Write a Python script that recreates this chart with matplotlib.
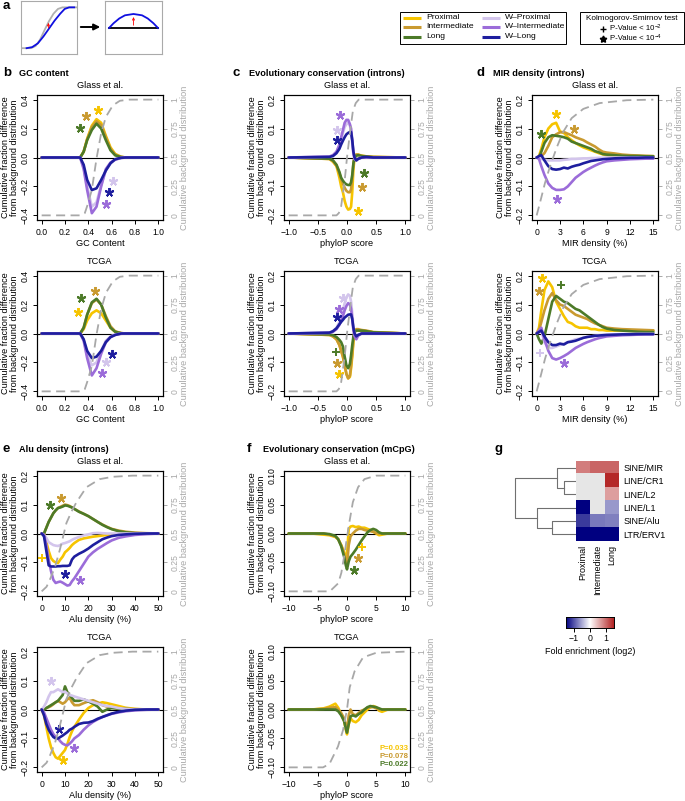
import matplotlib.pyplot as plt
import matplotlib.patches as mpatches
from matplotlib.colors import LinearSegmentedColormap
import numpy as np

plt.rcParams['font.family'] = ['Liberation Sans', 'DejaVu Sans']

W, H = 685, 801

SERIES = ['Proximal', 'Intermediate', 'Long', 'W-Proximal', 'W-Intermediate', 'W-Long']
COLORS = {'Proximal': '#F6C400', 'Intermediate': '#C99A30', 'Long': '#4C7A28',
          'W-Proximal': '#D3C5EC', 'W-Intermediate': '#9B6CD9', 'W-Long': '#1E1E9E'}
GREY = '#A8A8A8'

# ---------------- b: GC content ----------------
gc_x = [0, 0.33, 0.36, 0.39, 0.43, 0.47, 0.51, 0.55, 0.59, 0.63, 0.68, 0.72, 1.0]
gc_glass = {
    'Proximal':       [0, 0, 0.04, 0.13, 0.22, 0.265, 0.24, 0.15, 0.07, 0.025, 0.005, 0, 0],
    'Intermediate':   [0, 0, 0.04, 0.125, 0.21, 0.25, 0.225, 0.14, 0.06, 0.02, 0.004, 0, 0],
    'Long':           [0, 0, 0.04, 0.12, 0.19, 0.234, 0.20, 0.12, 0.05, 0.015, 0.003, 0, 0],
    'W-Proximal':     [0, 0, -0.07, -0.20, -0.34, -0.31, -0.19, -0.09, -0.04, -0.015, -0.003, 0, 0],
    'W-Intermediate': [0, 0, -0.08, -0.225, -0.385, -0.34, -0.20, -0.08, -0.035, -0.015, -0.003, 0, 0],
    'W-Long':         [0, 0, -0.05, -0.155, -0.225, -0.213, -0.155, -0.09, -0.04, -0.012, -0.002, 0, 0],
}
gc_tcga = {
    'Proximal':       [0, 0, 0.03, 0.09, 0.14, 0.16, 0.14, 0.09, 0.04, 0.012, 0.002, 0, 0],
    'Intermediate':   [0, 0, 0.04, 0.13, 0.21, 0.235, 0.20, 0.12, 0.05, 0.015, 0.003, 0, 0],
    'Long':           [0, 0, 0.04, 0.13, 0.215, 0.24, 0.20, 0.11, 0.04, 0.012, 0.002, 0, 0],
    'W-Proximal':     [0, 0, -0.04, -0.15, -0.22, -0.20, -0.12, -0.05, -0.02, -0.008, 0, 0, 0],
    'W-Intermediate': [0, 0, -0.05, -0.17, -0.29, -0.24, -0.14, -0.06, -0.025, -0.01, -0.002, 0, 0],
    'W-Long':         [0, 0, -0.04, -0.12, -0.17, -0.16, -0.12, -0.06, -0.025, -0.01, 0, 0, 0],
}
gc_bg_x = [0, 0.34, 0.37, 0.39, 0.43, 0.47, 0.51, 0.55, 0.61, 0.67, 0.75, 1.0]
gc_bg = [0, 0, 0.02, 0.08, 0.22, 0.49, 0.71, 0.85, 0.95, 0.99, 1, 1]
gc_glass_marks = [('Long', 0.33, 0.206, '*'), ('Intermediate', 0.38, 0.29, '*'),
                  ('Proximal', 0.48, 0.33, '*'), ('W-Proximal', 0.61, -0.16, '*'),
                  ('W-Long', 0.58, -0.24, '*'), ('W-Intermediate', 0.55, -0.32, '*')]
gc_tcga_marks = [('Long', 0.34, 0.246, '*'), ('Intermediate', 0.46, 0.297, '*'),
                 ('Proximal', 0.31, 0.151, '*'), ('W-Long', 0.605, -0.144, '*'),
                 ('W-Proximal', 0.55, -0.198, '*'), ('W-Intermediate', 0.52, -0.274, '*')]

# ---------------- c: phyloP introns ----------------
ph_x = [-1, -0.3, -0.24, -0.18, -0.13, -0.1, -0.07, -0.04, -0.01, 0.02, 0.05, 0.07,
        0.09, 0.11, 0.13, 0.16, 0.19, 0.25, 0.33, 0.45, 1.0]
ph_glass = {
    'Proximal':       [0, -0.005, -0.015, -0.03, -0.07, -0.1, -0.12, -0.15, -0.17, -0.18, -0.178, -0.17, -0.12, -0.04, 0, 0.01, 0.01, 0.006, 0.004, 0.002, 0],
    'Intermediate':   [0, -0.005, -0.012, -0.028, -0.055, -0.075, -0.09, -0.105, -0.115, -0.12, -0.12, -0.11, -0.07, -0.02, 0.005, 0.01, 0.01, 0.006, 0.004, 0.002, 0],
    'Long':           [0, -0.004, -0.01, -0.025, -0.05, -0.07, -0.08, -0.088, -0.093, -0.095, -0.095, -0.085, -0.06, -0.02, 0.0, 0.006, 0.008, 0.005, 0.003, 0.001, 0],
    'W-Proximal':     [0, 0.003, 0.008, 0.02, 0.04, 0.06, 0.085, 0.105, 0.115, 0.12, 0.11, 0.09, 0.05, 0.01, -0.005, -0.008, -0.004, 0, 0, 0, 0],
    'W-Intermediate': [0, 0.003, 0.008, 0.02, 0.045, 0.07, 0.095, 0.12, 0.13, 0.13, 0.115, 0.10, 0.06, 0.015, -0.005, -0.01, -0.005, 0, 0, 0, 0],
    'W-Long':         [0, 0.002, 0.005, 0.015, 0.03, 0.045, 0.058, 0.07, 0.08, 0.085, 0.088, 0.088, 0.06, 0.02, 0.0, -0.01, -0.005, 0, 0.002, 0, 0],
}
ph_tcga = {
    'Proximal':       [0, -0.005, -0.01, -0.02, -0.04, -0.06, -0.08, -0.11, -0.14, -0.155, -0.15, -0.12, -0.08, -0.03, 0.005, 0.012, 0.012, 0.01, 0.008, 0.004, 0],
    'Intermediate':   [0, -0.005, -0.01, -0.02, -0.04, -0.06, -0.08, -0.11, -0.14, -0.155, -0.145, -0.11, -0.07, -0.02, 0.008, 0.015, 0.015, 0.012, 0.01, 0.005, 0],
    'Long':           [0, -0.003, -0.006, -0.012, -0.022, -0.03, -0.045, -0.08, -0.11, -0.12, -0.105, -0.075, -0.04, -0.01, 0.005, 0.01, 0.01, 0.01, 0.008, 0.004, 0],
    'W-Proximal':     [0, 0.003, 0.008, 0.02, 0.04, 0.06, 0.08, 0.105, 0.125, 0.135, 0.13, 0.11, 0.07, 0.02, -0.005, -0.01, -0.005, 0, 0, 0, 0],
    'W-Intermediate': [0, 0.002, 0.006, 0.015, 0.03, 0.045, 0.06, 0.08, 0.095, 0.105, 0.1, 0.085, 0.05, 0.01, -0.01, -0.02, -0.008, 0, 0, 0, 0],
    'W-Long':         [0, 0.003, 0.008, 0.018, 0.032, 0.04, 0.047, 0.055, 0.06, 0.065, 0.066, 0.066, 0.05, 0.02, 0.0, -0.01, -0.005, 0, 0, 0, 0],
}
ph_bg_x = [-1, -0.18, -0.14, -0.1, -0.04, 0, 0.05, 0.1, 0.15, 0.2, 1]
ph_bg = [0, 0, 0.02, 0.08, 0.3, 0.5, 0.71, 0.9, 0.97, 1, 1]
ph_glass_marks = [('W-Intermediate', -0.126, 0.146, '*'), ('W-Proximal', -0.17, 0.094, '*'),
                  ('W-Long', -0.17, 0.06, '*'), ('Long', 0.29, -0.055, '*'),
                  ('Intermediate', 0.25, -0.103, '*'), ('Proximal', 0.18, -0.185, '*')]
ph_tcga_marks = [('W-Proximal', -0.07, 0.123, '*'), ('W-Intermediate', -0.14, 0.085, '*'),
                 ('W-Long', -0.17, 0.056, '*'), ('Long', -0.195, -0.064, '+'),
                 ('Intermediate', -0.17, -0.101, '*'), ('Proximal', -0.14, -0.141, '*')]

# ---------------- d: MIR density ----------------
mir_x = [0, 0.3, 0.6, 1.0, 1.5, 2.0, 2.5, 3.0, 3.5, 4.0, 4.5, 5.0, 5.5, 6.0, 6.5, 7.0,
         7.5, 8.0, 8.5, 9.0, 10, 11, 12, 13, 14, 15]
mir_glass = {
    'Proximal':       [0, 0.005, 0.03, 0.07, 0.1, 0.115, 0.12, 0.09, 0.085, 0.07, 0.06, 0.05, 0.042, 0.035, 0.03, 0.025, 0.02, 0.015, 0.011, 0.008, 0.002, -0.003, -0.003, 0, 0, 0],
    'Intermediate':   [0, 0, 0.005, 0.015, 0.04, 0.07, 0.08, 0.087, 0.088, 0.082, 0.077, 0.07, 0.065, 0.06, 0.052, 0.045, 0.038, 0.028, 0.02, 0.017, 0.014, 0.01, 0.008, 0.007, 0.006, 0.005],
    'Long':           [0, 0, 0.02, 0.05, 0.07, 0.077, 0.075, 0.073, 0.07, 0.065, 0.055, 0.05, 0.045, 0.04, 0.035, 0.03, 0.022, 0.018, 0.012, 0.01, 0.008, 0.006, 0.005, 0.005, 0.004, 0.004],
    'W-Proximal':     [0, 0, -0.005, -0.008, -0.01, -0.01, -0.01, -0.01, -0.008, -0.007, -0.005, -0.005, -0.004, -0.003, -0.003, -0.002, -0.002, -0.001, -0.001, 0, 0, 0, 0, 0, 0, 0],
    'W-Intermediate': [0, -0.005, -0.03, -0.06, -0.09, -0.105, -0.112, -0.112, -0.11, -0.1, -0.085, -0.07, -0.06, -0.05, -0.042, -0.035, -0.028, -0.022, -0.017, -0.013, -0.01, -0.008, -0.006, -0.005, -0.004, -0.004],
    'W-Long':         [0, 0.005, 0.008, -0.01, -0.03, -0.04, -0.042, -0.04, -0.035, -0.038, -0.032, -0.028, -0.025, -0.02, -0.016, -0.012, -0.01, -0.008, -0.006, -0.005, -0.003, -0.002, -0.001, -0.001, 0, 0],
}
mir_tcga = {
    'Proximal':       [0, 0.02, 0.08, 0.15, 0.18, 0.16, 0.11, 0.085, 0.06, 0.04, 0.035, 0.025, 0.02, 0.02, 0.02, 0.015, 0.015, 0.012, 0.012, 0.01, 0.01, 0.01, 0.01, 0.01, 0.01, 0.01],
    'Intermediate':   [0, 0.01, 0.04, 0.08, 0.12, 0.14, 0.115, 0.1, 0.095, 0.085, 0.075, 0.065, 0.06, 0.055, 0.05, 0.042, 0.035, 0.03, 0.025, 0.02, 0.017, 0.015, 0.014, 0.013, 0.012, 0.011],
    'Long':           [0, -0.02, -0.035, -0.01, 0.05, 0.11, 0.13, 0.12, 0.11, 0.105, 0.095, 0.085, 0.08, 0.07, 0.06, 0.05, 0.04, 0.03, 0.022, 0.017, 0.012, 0.01, 0.008, 0.006, 0.005, 0.005],
    'W-Proximal':     [0, 0.005, 0.01, -0.03, -0.05, -0.05, -0.045, -0.04, -0.035, -0.03, -0.025, -0.02, -0.018, -0.015, -0.012, -0.01, -0.008, -0.006, -0.005, -0.004, -0.003, -0.002, -0.002, -0.001, -0.001, -0.001],
    'W-Intermediate': [0, 0.01, 0.02, -0.02, -0.06, -0.085, -0.09, -0.085, -0.078, -0.07, -0.06, -0.05, -0.043, -0.036, -0.03, -0.025, -0.02, -0.016, -0.013, -0.01, -0.008, -0.006, -0.005, -0.004, -0.003, -0.003],
    'W-Long':         [0, 0.005, 0.01, -0.01, -0.03, -0.04, -0.04, -0.035, -0.038, -0.03, -0.028, -0.025, -0.02, -0.015, -0.012, -0.01, -0.008, -0.007, -0.006, -0.005, -0.004, -0.003, -0.003, -0.002, -0.002, -0.002],
}
mir_bg_x = [0, 0.43, 1.07, 1.7, 2.6, 3.4, 4.5, 6, 8.1, 11.6, 15]
mir_bg = [0, 0.11, 0.28, 0.42, 0.59, 0.72, 0.84, 0.92, 0.97, 0.995, 1]
mir_glass_marks = [('Proximal', 2.49, 0.149, '*'), ('Intermediate', 4.8, 0.1, '*'),
                   ('Long', 0.51, 0.08, '*'), ('W-Intermediate', 2.66, -0.143, '*')]
mir_tcga_marks = [('Proximal', 0.64, 0.192, '*'), ('Intermediate', 0.34, 0.146, '*'),
                  ('Long', 3.09, 0.169, '+'), ('W-Proximal', 0.43, -0.067, '+'),
                  ('W-Intermediate', 3.5, -0.102, '*')]

# ---------------- e: Alu density ----------------
alu_x = [0, 1, 2, 3, 4, 5, 6, 7, 8, 9, 10, 11, 12, 13, 14, 16, 18, 20, 22, 24, 26, 28,
         30, 33, 36, 40, 45, 50]
alu_glass = {
    'Proximal':       [0, 0, -0.03, -0.06, -0.085, -0.095, -0.1, -0.102, -0.09, -0.08, -0.065, -0.058, -0.05, -0.04, -0.033, -0.022, -0.017, -0.014, -0.011, -0.009, -0.007, -0.005, -0.004, -0.002, -0.001, 0, 0, 0],
    'Intermediate':   [0, 0, 0.02, 0.04, 0.055, 0.07, 0.08, 0.088, 0.092, 0.096, 0.1, 0.098, 0.095, 0.09, 0.085, 0.076, 0.068, 0.06, 0.05, 0.04, 0.031, 0.023, 0.016, 0.01, 0.006, 0.003, 0.001, 0],
    'Long':           [0, 0, 0.02, 0.04, 0.055, 0.07, 0.08, 0.088, 0.09, 0.093, 0.097, 0.096, 0.093, 0.09, 0.085, 0.075, 0.068, 0.06, 0.05, 0.04, 0.03, 0.022, 0.015, 0.008, 0.004, 0.001, 0, 0],
    'W-Proximal':     [0, -0.005, -0.015, -0.03, -0.035, -0.04, -0.042, -0.043, -0.04, -0.035, -0.033, -0.03, -0.027, -0.022, -0.018, -0.012, -0.007, -0.003, 0.001, 0.002, 0.001, 0, 0, 0, 0, 0, 0, 0],
    'W-Intermediate': [0, -0.005, -0.04, -0.09, -0.13, -0.16, -0.171, -0.168, -0.166, -0.17, -0.175, -0.18, -0.178, -0.165, -0.155, -0.13, -0.105, -0.08, -0.065, -0.053, -0.043, -0.033, -0.024, -0.015, -0.01, -0.005, -0.002, 0],
    'W-Long':         [0, -0.01, -0.06, -0.11, -0.114, -0.114, -0.114, -0.113, -0.113, -0.112, -0.112, -0.112, -0.11, -0.09, -0.08, -0.07, -0.062, -0.052, -0.04, -0.03, -0.02, -0.014, -0.009, -0.005, -0.003, -0.001, 0, 0],
}
alu_tcga = {
    'Proximal':       [0, -0.02, -0.06, -0.1, -0.13, -0.15, -0.165, -0.17, -0.16, -0.15, -0.14, -0.12, -0.095, -0.075, -0.06, -0.035, -0.012, 0.005, 0.015, 0.02, 0.025, 0.022, 0.018, 0.012, 0.006, 0.002, 0, 0],
    'Intermediate':   [0, 0, 0.005, 0.008, 0.012, 0.018, 0.025, 0.03, 0.025, 0.02, 0.025, 0.035, 0.04, 0.025, 0.015, 0.015, 0.022, 0.028, 0.032, 0.025, 0.015, 0.01, 0.006, 0.004, 0.002, 0.001, 0, 0],
    'Long':           [0, 0, 0.005, 0.01, 0.015, 0.02, 0.025, 0.03, 0.04, 0.05, 0.08, 0.06, 0.05, 0.04, 0.03, 0.03, 0.035, 0.028, 0.02, 0.01, -0.008, 0.0, 0.005, 0.003, 0.002, 0, 0, 0],
    'W-Proximal':     [0, 0.01, 0.025, 0.045, 0.06, 0.06, 0.065, 0.07, 0.065, 0.06, 0.062, 0.055, 0.05, 0.048, 0.045, 0.04, 0.035, 0.03, 0.025, 0.02, 0.015, 0.012, 0.01, 0.005, 0.002, 0, 0, 0],
    'W-Intermediate': [0, -0.01, -0.03, -0.05, -0.07, -0.085, -0.095, -0.1, -0.11, -0.118, -0.122, -0.124, -0.118, -0.11, -0.1, -0.088, -0.07, -0.055, -0.043, -0.034, -0.026, -0.02, -0.015, -0.01, -0.006, -0.003, -0.001, 0],
    'W-Long':         [0, -0.02, -0.05, -0.07, -0.084, -0.095, -0.1, -0.1, -0.095, -0.09, -0.084, -0.078, -0.07, -0.066, -0.06, -0.05, -0.046, -0.045, -0.04, -0.032, -0.026, -0.02, -0.014, -0.008, -0.004, -0.001, 0, 0],
}
alu_bg_x = [0, 2.1, 3.5, 5.7, 7.8, 10.6, 12.8, 14.9, 19.2, 24.9, 30.5, 39, 50]
alu_bg = [0, 0.04, 0.1, 0.21, 0.36, 0.59, 0.69, 0.77, 0.9, 0.97, 0.99, 1, 1]
alu_glass_marks = [('Long', 3.5, 0.097, '*'), ('Intermediate', 8.2, 0.123, '*'),
                   ('Proximal', 0.2, -0.083, '+'), ('W-Long', 9.8, -0.14, '*'),
                   ('W-Intermediate', 16.5, -0.16, '*')]
alu_tcga_marks = [('W-Proximal', 4.0, 0.097, '*'), ('W-Long', 7.5, -0.066, '*'),
                  ('W-Intermediate', 14.0, -0.132, '*'), ('Proximal', 9.2, -0.175, '*')]

# ---------------- f: phyloP mCpG ----------------
cpg_x = [-10, -6, -4, -3, -2, -1.5, -1, -0.5, -0.2, 0, 0.3, 0.6, 1.0, 1.5, 2.0, 2.5,
         3.0, 3.5, 4.0, 4.5, 5.0, 5.5, 6.0, 7, 10]
cpg_glass = {
    'Proximal':     [0, 0, -0.002, -0.003, -0.006, -0.01, -0.02, -0.032, -0.045, -0.035, 0.008, 0.012, 0.013, 0.011, 0.012, 0.01, 0.01, 0.008, 0.006, 0.003, 0.0, -0.003, -0.002, 0, 0],
    'Intermediate': [0, 0, 0, -0.002, -0.005, -0.01, -0.02, -0.035, -0.05, -0.055, -0.02, -0.005, 0.0, 0.005, 0.008, 0.008, 0.006, 0.005, 0.004, 0.003, 0.001, 0, 0, 0, 0],
    'Long':         [0, 0, 0, -0.001, -0.004, -0.01, -0.022, -0.04, -0.055, -0.062, -0.048, -0.04, -0.035, -0.028, -0.02, -0.012, -0.005, 0.002, 0.006, 0.008, 0.006, 0.002, 0, 0, 0],
}
cpg_tcga = {
    'Proximal':     [0, 0, 0.002, 0.005, 0.01, 0.003, -0.008, -0.02, -0.035, -0.043, -0.025, -0.015, -0.02, -0.022, -0.018, -0.01, -0.005, 0.0, 0.004, 0.006, 0.004, -0.002, -0.004, 0, 0],
    'Intermediate': [0, 0, 0.001, 0.003, 0.004, 0.0, -0.006, -0.015, -0.028, -0.035, -0.01, 0.0, -0.008, -0.01, -0.006, -0.002, 0.0, 0.003, 0.004, 0.004, 0.002, 0, 0, 0, 0],
    'Long':         [0, 0, 0, 0, 0, -0.003, -0.01, -0.02, -0.033, -0.04, -0.025, -0.012, -0.01, -0.012, -0.008, -0.005, 0.0, 0.004, 0.006, 0.005, 0.004, 0.002, 0, 0, 0],
}
cpg_glass_bg_x = [-10, -2.95, -1.5, -0.97, -0.4, 0, 0.45, 1.0, 1.9, 3, 5, 10]
cpg_glass_bg = [0, 0, 0.07, 0.16, 0.33, 0.47, 0.61, 0.77, 0.9, 0.97, 1, 1]
cpg_tcga_bg_x = [-10, -4.1, -3, -1.55, -0.69, 0, 0.46, 1.3, 2.75, 5, 10]
cpg_tcga_bg = [0, 0, 0.03, 0.18, 0.32, 0.5, 0.69, 0.83, 0.95, 0.99, 1]
cpg_glass_marks = [('Proximal', 2.55, -0.024, '+'), ('Intermediate', 1.9, -0.043, '*'),
                   ('Long', 1.25, -0.063, '*')]
cpg_tcga_pvals = [('Proximal', 'P=0.033'), ('Intermediate', 'P=0.078'), ('Long', 'P=0.022')]

# ---------------- g: heatmap ----------------
hm_rows = ['SINE/MIR', 'LINE/CR1', 'LINE/L2', 'LINE/L1', 'SINE/Alu', 'LTR/ERV1']
hm_cols = ['Proximal', 'Intermediate', 'Long']
hm_vals = [[0.87, 1.04, 1.04],
           [np.nan, np.nan, 1.45],
           [np.nan, np.nan, 0.65],
           [-1.5, np.nan, -0.6],
           [-1.15, -0.78, -0.75],
           [-1.5, -1.5, -1.5]]
# (child a, child b, merge height, new node) - leaves are row indices
hm_links = [(1, 2, 0.20, 'n1'), (0, 'n1', 0.31, 'n2'), (4, 5, 0.39, 'n3'),
            (3, 'n3', 0.64, 'n4'), ('n2', 'n4', 1.0, 'root')]

# schematic curves (box-local coordinates)
sch_ref_x = [0.02, 0.18, 0.26, 0.34, 0.42, 0.5, 0.58, 0.66, 0.74, 0.82, 1.0]
sch_ref_y = [0.11, 0.11, 0.15, 0.27, 0.45, 0.62, 0.76, 0.85, 0.88, 0.88, 0.88]
sch_obs_x = [0.1, 0.2, 0.3, 0.4, 0.5, 0.6, 0.7, 0.78, 0.86, 0.95]
sch_obs_y = [0.11, 0.13, 0.2, 0.33, 0.48, 0.63, 0.76, 0.85, 0.88, 0.88]
sch_diff_x = [0.07, 0.15, 0.25, 0.35, 0.5, 0.65, 0.75, 0.85, 0.93]
sch_diff_y = [0.49, 0.58, 0.67, 0.73, 0.755, 0.73, 0.67, 0.58, 0.49]


def px_rect(left, top, width, height):
    return [left / W, 1 - (top + height) / H, width / W, height / H]


fig = plt.figure(figsize=(W / 100, H / 100), dpi=100)
ov = fig.add_axes([0, 0, 1, 1])
ov.set_xlim(0, W)
ov.set_ylim(H, 0)
ov.axis('off')

AX_W, AX_H = 126, 125
TICK_FS = 6.2
LAB_FS = 6.6


def draw_panel(left, top, x, curves, bg_x, bg_y, lo, hi, xticks, xlabels, yticks, ylabels,
               title, xlabel, marks):
    ax = fig.add_axes(px_rect(left, top, AX_W, AX_H))
    ax.axhline(0, color='black', lw=0.8, zorder=1)
    for name in SERIES:
        if name in curves:
            ax.plot(x, curves[name], color=COLORS[name], lw=1.9, zorder=2,
                    solid_capstyle='round', solid_joinstyle='round')
    for name, mx, my, kind in marks:
        if kind == '*':
            ax.plot(mx, my, marker=(5, 2, 0), ms=6.5, mew=1.4, color=COLORS[name], zorder=3)
        else:
            ax.plot(mx, my, marker='+', ms=6, mew=1.4, color=COLORS[name], zorder=3)
    xr = x[-1] - x[0]
    ax.set_xlim(x[0] - 0.04 * xr, x[-1] + 0.04 * xr)
    yr = hi - lo
    ax.set_ylim(lo - 0.04 * yr, hi + 0.04 * yr)
    ax.set_xticks(xticks, xlabels)
    ax.set_yticks(yticks, ylabels)
    ax.tick_params(direction='out', length=3, width=0.7, labelsize=TICK_FS, pad=2.5)
    ax.tick_params(axis='y', labelrotation=90)
    for lbl in ax.get_yticklabels():
        lbl.set_va('center')
    for sp in ax.spines.values():
        sp.set_linewidth(0.8)

    ax2 = ax.twinx()
    ax2.plot(bg_x, bg_y, color=GREY, lw=1.3, ls=(0, (5, 3)))
    ax2.set_ylim(-0.04, 1.04)
    ax2.set_yticks([0, 0.25, 0.5, 0.75, 1], ['0', '0.25', '0.5', '0.75', '1'])
    ax2.tick_params(axis='y', direction='out', length=3, width=0.7, labelsize=TICK_FS,
                    pad=2.5, colors=GREY, labelrotation=90)
    for lbl in ax2.get_yticklabels():
        lbl.set_va('center')
    for sp in ax2.spines.values():
        sp.set_linewidth(0.8)

    cx = left + AX_W / 2
    cy = top + AX_H / 2
    ov.text(cx, top - 9, title, ha='center', va='center', fontsize=LAB_FS)
    ov.text(cx, top + AX_H + 23, xlabel, ha='center', va='center', fontsize=LAB_FS)
    ov.text(left - 27, cy, 'Cumulative fraction difference\nfrom background distribution',
            ha='center', va='center', rotation=90, fontsize=LAB_FS, linespacing=1.05)
    ov.text(left + AX_W + 22, cy, 'Cumulative background distribution', ha='center',
            va='center', rotation=90, fontsize=LAB_FS, color=GREY)
    return ax


COLS = [37, 284, 532]
ROWS = [95, 271, 471, 647]

gc_ticks = [0, 0.2, 0.4, 0.6, 0.8, 1.0]
gc_tlab = ['0.0', '0.2', '0.4', '0.6', '0.8', '1.0']
gc_y = [-0.4, -0.2, 0, 0.2, 0.4]
gc_ylab = ['\u22120.4', '\u22120.2', '0.0', '0.2', '0.4']
y2 = [-0.2, -0.1, 0, 0.1, 0.2]
y2lab = ['\u22120.2', '\u22120.1', '0.0', '0.1', '0.2']
ph_ticks = [-1, -0.5, 0, 0.5, 1]
ph_tlab = ['\u22121.0', '\u22120.5', '0.0', '0.5', '1.0']
mir_ticks = [0, 3, 6, 9, 12, 15]
alu_ticks = [0, 10, 20, 30, 40, 50]
cpg_ticks = [-10, -5, 0, 5, 10]
cpg_tlab = ['\u221210', '\u22125', '0', '5', '10']
cpg_y = [-0.1, -0.05, 0, 0.05, 0.1]
cpg_ylab = ['\u22120.10', '\u22120.05', '0.00', '0.05', '0.10']

draw_panel(COLS[0], ROWS[0], gc_x, gc_glass, gc_bg_x, gc_bg, -0.4, 0.4, gc_ticks, gc_tlab,
           gc_y, gc_ylab, 'Glass et al.', 'GC Content', gc_glass_marks)
draw_panel(COLS[0], ROWS[1], gc_x, gc_tcga, gc_bg_x, gc_bg, -0.4, 0.4, gc_ticks, gc_tlab,
           gc_y, gc_ylab, 'TCGA', 'GC Content', gc_tcga_marks)
draw_panel(COLS[1], ROWS[0], ph_x, ph_glass, ph_bg_x, ph_bg, -0.2, 0.2, ph_ticks, ph_tlab,
           y2, y2lab, 'Glass et al.', 'phyloP score', ph_glass_marks)
draw_panel(COLS[1], ROWS[1], ph_x, ph_tcga, ph_bg_x, ph_bg, -0.2, 0.2, ph_ticks, ph_tlab,
           y2, y2lab, 'TCGA', 'phyloP score', ph_tcga_marks)
draw_panel(COLS[2], ROWS[0], mir_x, mir_glass, mir_bg_x, mir_bg, -0.2, 0.2, mir_ticks,
           [str(t) for t in mir_ticks], y2, y2lab, 'Glass et al.', 'MIR density (%)',
           mir_glass_marks)
draw_panel(COLS[2], ROWS[1], mir_x, mir_tcga, mir_bg_x, mir_bg, -0.2, 0.2, mir_ticks,
           [str(t) for t in mir_ticks], y2, y2lab, 'TCGA', 'MIR density (%)', mir_tcga_marks)
draw_panel(COLS[0], ROWS[2], alu_x, alu_glass, alu_bg_x, alu_bg, -0.2, 0.2, alu_ticks,
           [str(t) for t in alu_ticks], y2, y2lab, 'Glass et al.', 'Alu density (%)',
           alu_glass_marks)
draw_panel(COLS[0], ROWS[3], alu_x, alu_tcga, alu_bg_x, alu_bg, -0.2, 0.2, alu_ticks,
           [str(t) for t in alu_ticks], y2, y2lab, 'TCGA', 'Alu density (%)', alu_tcga_marks)
draw_panel(COLS[1], ROWS[2], cpg_x, cpg_glass, cpg_glass_bg_x, cpg_glass_bg, -0.1, 0.1,
           cpg_ticks, cpg_tlab, cpg_y, cpg_ylab, 'Glass et al.', 'phyloP score',
           cpg_glass_marks)
ax_f2 = draw_panel(COLS[1], ROWS[3], cpg_x, cpg_tcga, cpg_tcga_bg_x, cpg_tcga_bg, -0.1, 0.1,
                   cpg_ticks, cpg_tlab, cpg_y, cpg_ylab, 'TCGA', 'phyloP score', [])
for i, (name, txt) in enumerate(cpg_tcga_pvals):
    ax_f2.text(0.985, 0.19 - i * 0.067, txt, transform=ax_f2.transAxes, ha='right',
               va='center', fontsize=5.6, fontweight='bold', color=COLORS[name], zorder=5)

# panel letters and headings
heads = [('a', 3, 6, ''), ('b', 3, 73, 'GC content'),
         ('c', 233, 73, 'Evolutionary conservation (introns)'),
         ('d', 477, 73, 'MIR density (introns)'), ('e', 3, 449, 'Alu density (introns)'),
         ('f', 247, 449, 'Evolutionary conservation (mCpG)'), ('g', 495, 449, '')]
for letter, hx, hy, htxt in heads:
    ov.text(hx, hy, letter, ha='left', va='center', fontsize=9.5, fontweight='bold')
    if htxt:
        ov.text(hx + 16, hy, htxt, ha='left', va='center', fontsize=6.6, fontweight='bold')

# ---- a: schematic ----
ax_a1 = fig.add_axes(px_rect(21, 1, 56, 53))
ax_a1.plot(sch_ref_x, sch_ref_y, color='#B0B0B0', lw=1.3)
ax_a1.plot(sch_obs_x, sch_obs_y, color='#1010E0', lw=1.3)
ax_a1.annotate('', xy=(0.49, 0.64), xytext=(0.49, 0.44),
               arrowprops=dict(arrowstyle='->', color='red', lw=0.6, mutation_scale=4))
ax_a2 = fig.add_axes(px_rect(105, 1, 57, 53))
ax_a2.axhline(0.49, xmin=0.07, xmax=0.93, color='black', lw=1.3)
ax_a2.plot(sch_diff_x, sch_diff_y, color='#1010E0', lw=1.3)
ax_a2.annotate('', xy=(0.5, 0.75), xytext=(0.5, 0.49),
               arrowprops=dict(arrowstyle='->', color='red', lw=0.6, mutation_scale=4))
for a in (ax_a1, ax_a2):
    a.set_xlim(0, 1)
    a.set_ylim(0, 1)
    a.set_xticks([])
    a.set_yticks([])
    for sp in a.spines.values():
        sp.set_color('#AAAAAA')
        sp.set_linewidth(0.8)
ov.annotate('', xy=(103, 27), xytext=(78, 27),
            arrowprops=dict(arrowstyle='-|>', color='black', lw=1.4, mutation_scale=9))

# ---- legends ----
ov.add_patch(mpatches.Rectangle((400, 12), 166, 32, fill=False, ec='black', lw=0.7))
for i, name in enumerate(SERIES):
    col, row = divmod(i, 3)
    lx = 403 + col * 79
    ly = 17.5 + row * 9.5
    ov.plot([lx, lx + 18], [ly, ly], color=COLORS[name], lw=2.2, solid_capstyle='butt')
    ov.text(lx + 23, ly, name.replace('-', '\u2013'), ha='left', va='center', fontsize=6.1)

ov.add_patch(mpatches.Rectangle((580, 12), 104, 32, fill=False, ec='black', lw=0.7))
ov.text(632, 18, 'Kolmogorov-Smirnov test', ha='center', va='center', fontsize=5.9)
ks_rows = [('+', '\u22122', 28.5), ('star', '\u22124', 38.5)]
for sym, expo, ky in ks_rows:
    if sym == '+':
        ov.plot(603, ky, marker='+', ms=5, mew=1.0, color='black')
    else:
        ov.plot(603, ky, marker=(5, 1, 0), ms=5, color='black')
    base = ov.text(610, ky, 'P-Value < 10', ha='left', va='center', fontsize=5.6)
    ov.annotate(expo, xy=(1.0, 0.8), xycoords=base, ha='left', va='center', fontsize=4.0)

# ---- g: heatmap ----
cmap = LinearSegmentedColormap.from_list('fe', ['#000080', '#FFFFFF', '#B22222'])
cmap.set_bad('#E6E6E6')
ax_h = fig.add_axes(px_rect(576, 461, 43, 80))
ax_h.imshow(np.ma.masked_invalid(np.array(hm_vals)), cmap=cmap, vmin=-1.5, vmax=1.5,
            aspect='auto', interpolation='nearest')
ax_h.yaxis.tick_right()
ax_h.set_yticks(range(len(hm_rows)), hm_rows)
ax_h.set_xticks(range(len(hm_cols)), hm_cols, rotation=90)
ax_h.tick_params(length=0, labelsize=6.5, pad=3)
for lbl in ax_h.get_xticklabels():
    lbl.set_va('top')
for sp in ax_h.spines.values():
    sp.set_visible(False)

ax_d = fig.add_axes(px_rect(512, 461, 64, 80))
ax_d.set_xlim(1.05, 0)
ax_d.set_ylim(len(hm_rows) - 0.5, -0.5)
ax_d.axis('off')
pos = {i: (i, 0.0) for i in range(len(hm_rows))}
for a, b, h, node in hm_links:
    ya, ha_ = pos[a]
    yb, hb = pos[b]
    ax_d.plot([ha_, h, h, hb], [ya, ya, yb, yb], color='#707070', lw=0.8)
    pos[node] = ((ya + yb) / 2, h)

ax_cb = fig.add_axes(px_rect(566, 617, 48, 11))
ax_cb.imshow(np.linspace(-1.5, 1.5, 256)[None, :], cmap=cmap, aspect='auto',
             extent=(-1.5, 1.5, 0, 1))
ax_cb.set_yticks([])
ax_cb.set_xticks([-1, 0, 1], ['\u22121', '0', '1'])
ax_cb.tick_params(axis='x', length=3, width=0.7, labelsize=6.3, pad=1.5)
for sp in ax_cb.spines.values():
    sp.set_linewidth(0.7)
ov.text(590, 651, 'Fold enrichment (log2)', ha='center', va='center', fontsize=6.5)

fig.savefig('out.png', dpi=100)
